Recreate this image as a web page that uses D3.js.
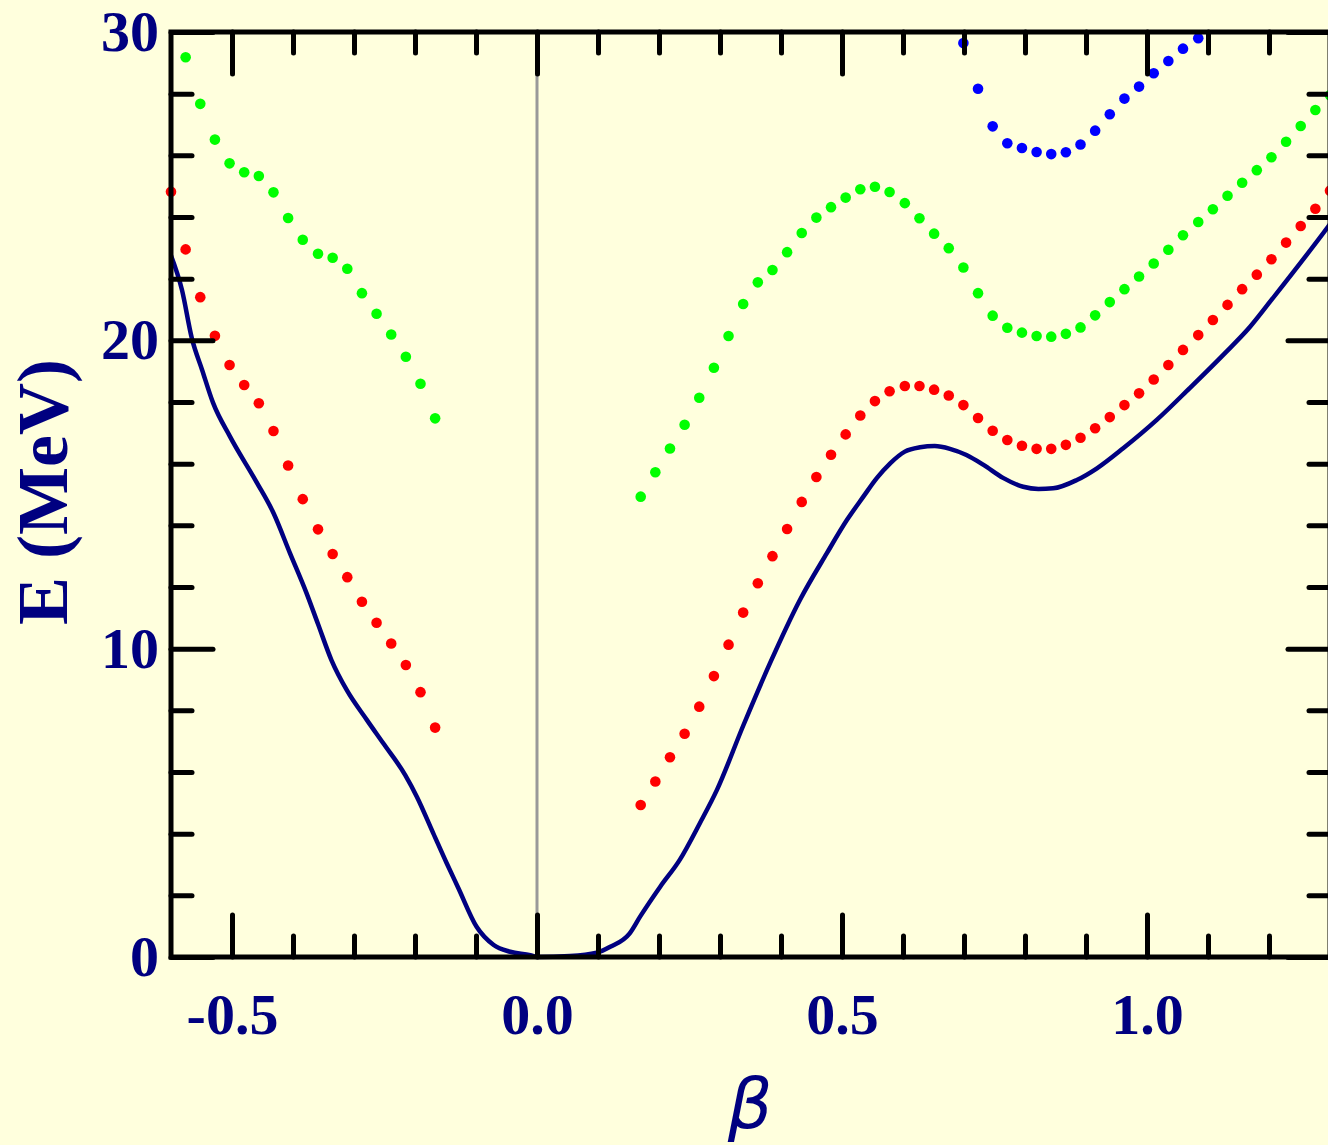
<!DOCTYPE html>
<html>
<head>
<meta charset="utf-8">
<script src="https://cdn.jsdelivr.net/npm/d3@7"></script>
<style>
	body { margin:0; background:#ffffdd; }
	svg { display:block; }
	.tick text { font-family:"Liberation Serif","Times New Roman",serif; font-weight:bold; font-size:58px; fill:#000080; }
	.tick line { stroke:#000; stroke-width:5; stroke-linecap:round; }
</style>
</head>
<body>
<div id="chart-area"></div>
<script>
// axis ticks
var xMajor = [-0.5, 0.0, 0.5, 1.0];
var xMinor = [-0.4, -0.3, -0.2, -0.1, 0.1, 0.2, 0.3, 0.4, 0.6, 0.7, 0.8, 0.9, 1.1, 1.2];
var yMajor = [0, 10, 20, 30];
var yMinor = [2, 4, 6, 8, 12, 14, 16, 18, 22, 24, 26, 28];

// potential energy curve
var curveBeta = [-0.600, -0.582, -0.566, -0.549, -0.531, -0.503, -0.460, -0.432, -0.405, -0.378,
	-0.359, -0.337, -0.312, -0.279, -0.252, -0.216, -0.197, -0.170, -0.148, -0.129,
	-0.099, -0.071, -0.044, -0.011, 0.000, 0.054, 0.098, 0.120, 0.152, 0.169,
	0.202, 0.234, 0.267, 0.295, 0.338, 0.382, 0.431, 0.475, 0.508, 0.535, 0.557,
	0.579, 0.603, 0.628, 0.652, 0.677, 0.704, 0.732, 0.764, 0.797, 0.822,
	0.846, 0.885, 0.918, 0.961, 1.016, 1.070, 1.125, 1.169, 1.204, 1.297, 1.300];
var curveE = [22.75, 21.63, 20.08, 19.04, 17.97, 16.87, 15.41, 14.40, 13.10, 11.81,
	10.80, 9.63, 8.66, 7.69, 6.93, 5.90, 5.20, 4.01, 3.04, 2.24,
	0.98, 0.39, 0.17, 0.06, 0.00, 0.03, 0.14, 0.33, 0.77, 1.31,
	2.28, 3.15, 4.34, 5.42, 7.50, 9.53, 11.58, 13.09, 14.17, 14.93, 15.53,
	16.01, 16.39, 16.53, 16.57, 16.48, 16.28, 15.96, 15.54, 15.25, 15.18,
	15.20, 15.47, 15.85, 16.50, 17.42, 18.45, 19.53, 20.44, 21.31, 23.69, 23.77];

// deformation points of the dotted levels
var betaLeft = [-0.600, -0.576, -0.552, -0.528, -0.504, -0.480, -0.456, -0.432, -0.408, -0.384,
	-0.359, -0.335, -0.311, -0.287, -0.263, -0.239, -0.215, -0.191, -0.167];
var betaRight = [0.170, 0.194, 0.218, 0.242, 0.266, 0.290, 0.314, 0.338, 0.362, 0.386,
	0.410, 0.434, 0.458, 0.482, 0.506, 0.530, 0.554, 0.578, 0.603, 0.627,
	0.651, 0.675, 0.699, 0.723, 0.747, 0.771, 0.795, 0.819, 0.843, 0.867,
	0.891, 0.915, 0.939, 0.963, 0.987, 1.011, 1.035, 1.059, 1.084, 1.108,
	1.132, 1.156, 1.180, 1.204, 1.228, 1.252, 1.276, 1.300];
var betaBlue = [0.699, 0.723, 0.747, 0.771, 0.795, 0.819, 0.843, 0.867, 0.891, 0.915,
	0.939, 0.963, 0.987, 1.011, 1.035, 1.059, 1.084];

var redLeft = [24.82, 22.95, 21.40, 20.15, 19.20, 18.55, 17.96, 17.06, 15.94, 14.85,
	13.87, 13.07, 12.32, 11.52, 10.84, 10.17, 9.47, 8.59, 7.44];
var redRight = [4.93, 5.69, 6.48, 7.24, 8.12, 9.11, 10.13, 11.17, 12.12, 13.00,
	13.88, 14.76, 15.57, 16.29, 16.95, 17.56, 18.03, 18.35, 18.52, 18.52,
	18.40, 18.21, 17.90, 17.48, 17.07, 16.77, 16.58, 16.48, 16.48, 16.61,
	16.84, 17.15, 17.51, 17.90, 18.28, 18.73, 19.20, 19.69, 20.17, 20.66,
	21.15, 21.66, 22.13, 22.63, 23.17, 23.71, 24.27, 24.85];
var greenLeft = [null, 29.18, 27.67, 26.51, 25.74, 25.45, 25.33, 24.80, 23.97, 23.26,
	22.81, 22.68, 22.32, 21.53, 20.86, 20.19, 19.47, 18.59, 17.47];
var greenRight = [14.93, 15.72, 16.49, 17.26, 18.14, 19.11, 20.14, 21.18, 21.88, 22.28,
	22.86, 23.48, 23.98, 24.32, 24.63, 24.90, 24.98, 24.81, 24.45, 23.96,
	23.46, 22.99, 22.36, 21.53, 20.80, 20.41, 20.25, 20.14, 20.12, 20.21,
	20.42, 20.81, 21.24, 21.66, 22.07, 22.49, 22.94, 23.41, 23.84, 24.25,
	24.69, 25.11, 25.52, 25.94, 26.44, 26.95, 27.47, 27.95];
var blueRight = [29.64, 28.16, 26.94, 26.39, 26.24, 26.11, 26.04, 26.10, 26.35, 26.80,
	27.33, 27.84, 28.23, 28.66, 29.06, 29.46, 29.80];

var margin = {left:171, right:-2, top:32, bottom:188};

var width = 1328 - margin.left - margin.right,
	height = 1145 - margin.top - margin.bottom;

var svg = d3.select("#chart-area")
	.append("svg")
		.attr("width", 1328)
		.attr("height", 1145);

svg.append("rect")
	.attr("width", 1328)
	.attr("height", 1145)
	.attr("fill", "#ffffdd");

var g = svg.append("g")
	.attr("transform", "translate(" + margin.left + "," + margin.top + ")");

var x = d3.scaleLinear()
	.domain([-0.6, 1.3])
	.range([0, width]);

var y = d3.scaleLinear()
	.domain([0, 30])
	.range([height, 0]);

// zero line
g.append("line")
	.attr("x1", x(0)).attr("x2", x(0))
	.attr("y1", 0).attr("y2", height)
	.attr("stroke", "#999999")
	.attr("stroke-width", 3);

// curve
var curve = curveBeta.map(function(b, i){ return {beta:b, e:curveE[i]}; });
var line = d3.line()
	.x(function(d){ return x(d.beta); })
	.y(function(d){ return y(d.e); })
	.curve(d3.curveMonotoneX);

g.append("path")
	.datum(curve)
	.attr("d", line)
	.attr("fill", "none")
	.attr("stroke", "#000080")
	.attr("stroke-width", 4.5)
	.attr("stroke-linejoin", "round");

// dotted levels
function dots(betas, values, color){
	var pts = betas.map(function(b, i){ return {beta:b, e:values[i]}; })
		.filter(function(d){ return d.e != null; });
	g.append("g").selectAll("circle")
		.data(pts)
		.enter()
		.append("circle")
			.attr("cx", function(d){ return x(d.beta); })
			.attr("cy", function(d){ return y(d.e); })
			.attr("r", 5.3)
			.attr("fill", color);
}
dots(betaLeft, redLeft, "#ff0000");
dots(betaRight, redRight, "#ff0000");
dots(betaLeft, greenLeft, "#00ff00");
dots(betaRight, greenRight, "#00ff00");
dots(betaBlue, blueRight, "#0000ff");

// axes
function fmt(d){ return d.toFixed(1); }

var axes = [
	{axis:d3.axisBottom(x).tickValues(xMajor).tickSizeInner(-42).tickPadding(36).tickFormat(fmt), t:"translate(0," + height + ")"},
	{axis:d3.axisBottom(x).tickValues(xMinor).tickSizeInner(-21).tickFormat(""), t:"translate(0," + height + ")"},
	{axis:d3.axisTop(x).tickValues(xMajor).tickSizeInner(-42).tickFormat(""), t:"translate(0,0)"},
	{axis:d3.axisTop(x).tickValues(xMinor).tickSizeInner(-21).tickFormat(""), t:"translate(0,0)"},
	{axis:d3.axisLeft(y).tickValues(yMajor).tickSizeInner(-42).tickPadding(12), t:"translate(0,0)"},
	{axis:d3.axisLeft(y).tickValues(yMinor).tickSizeInner(-21).tickFormat(""), t:"translate(0,0)"},
	{axis:d3.axisRight(y).tickValues(yMajor).tickSizeInner(-42).tickFormat(""), t:"translate(" + width + ",0)"},
	{axis:d3.axisRight(y).tickValues(yMinor).tickSizeInner(-21).tickFormat(""), t:"translate(" + width + ",0)"}
];

axes.forEach(function(a){
	var ag = g.append("g")
		.attr("transform", a.t)
		.call(a.axis.tickSizeOuter(0));
	ag.select(".domain").remove();
	ag.attr("font-size", null).attr("font-family", null);
});

g.append("rect")
	.attr("width", width)
	.attr("height", height)
	.attr("fill", "none")
	.attr("stroke", "#000")
	.attr("stroke-width", 5);

// titles
g.append("text")
	.attr("transform", "translate(" + (67 - margin.left) + "," + (492 - margin.top) + ") rotate(-90)")
	.attr("text-anchor", "middle")
	.attr("font-family", "Liberation Serif, Times New Roman, serif")
	.attr("font-weight", "bold")
	.attr("font-size", 72)
	.attr("fill", "#000080")
	.text("E (MeV)");

g.append("text")
	.attr("x", 750 - margin.left)
	.attr("y", 1128 - margin.top)
	.attr("text-anchor", "middle")
	.attr("font-family", "DejaVu Sans, sans-serif")
	.attr("font-style", "italic")
	.attr("font-size", 70)
	.attr("fill", "#000080")
	.text("β");
</script>
</body>
</html>
